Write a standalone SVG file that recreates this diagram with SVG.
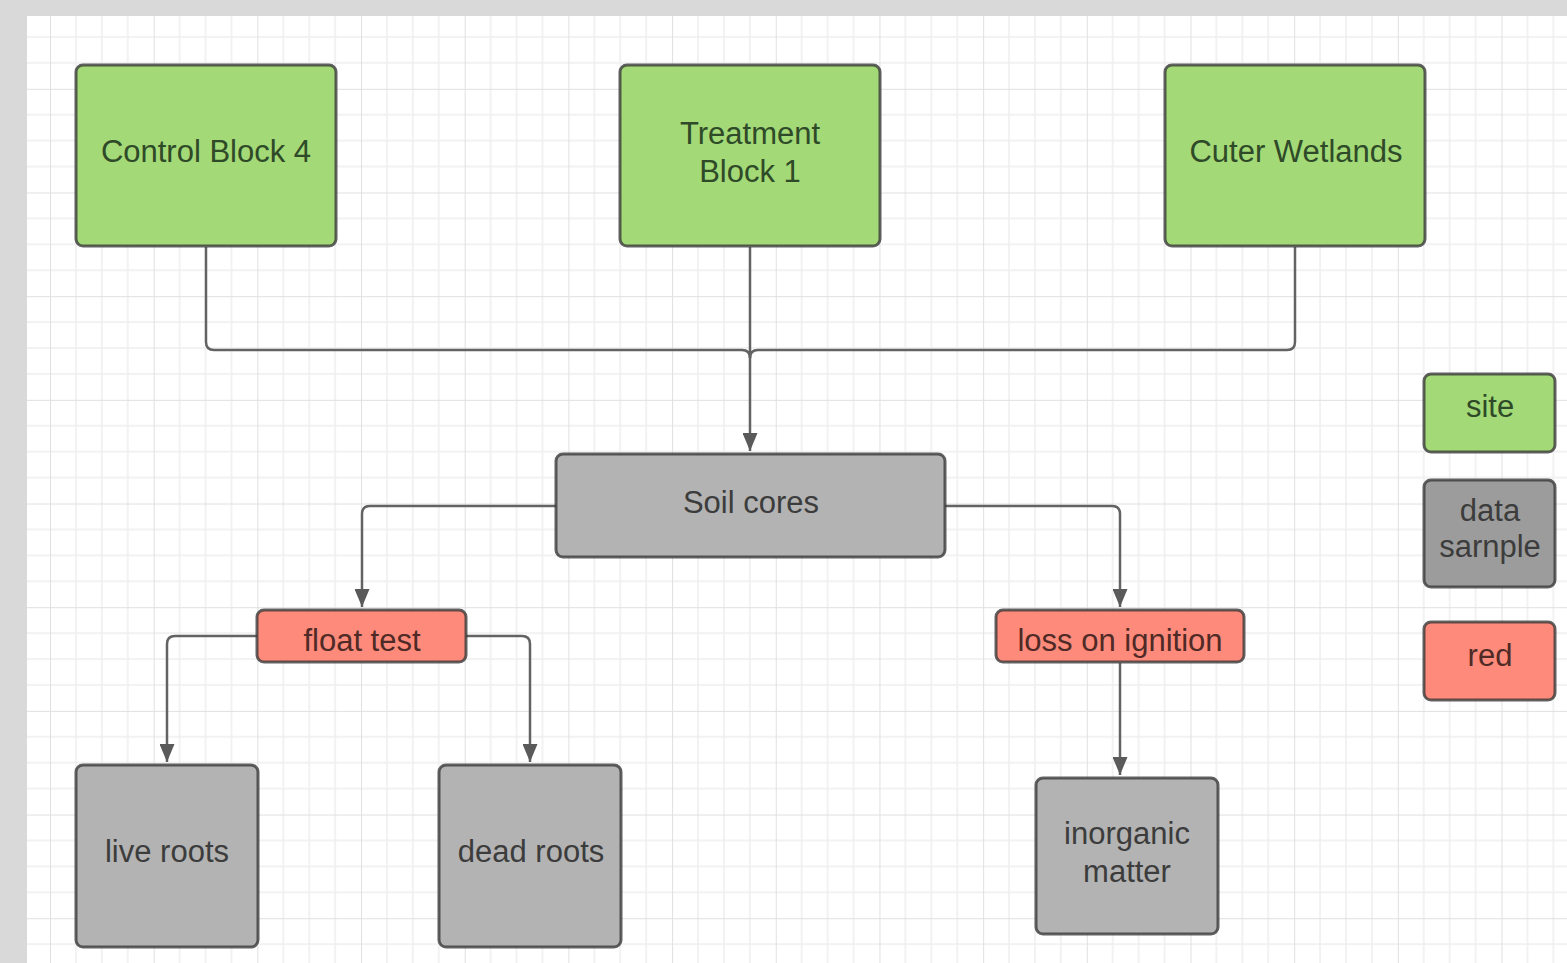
<svg xmlns="http://www.w3.org/2000/svg" width="1567" height="963" viewBox="0 0 1567 963">
<style>
.node rect{stroke:#3a3a3a;stroke-opacity:0.8;stroke-width:3}
.site rect{fill:#a3d977}
.data rect{fill:#b3b3b3}
.leg rect{fill:#9c9c9c}
.red rect{fill:#fd8a7a}
text{font-family:"Liberation Sans",Arial,sans-serif;font-size:31px;text-anchor:middle}
.site text{fill:#2f4a28}
.data text,.leg text{fill:#3c3c3c}
.red text{fill:#4f2a26}
.conn path{fill:none;stroke:#636363;stroke-width:2.5}
</style>
<defs>
<pattern id="grid" patternUnits="userSpaceOnUse" x="50" y="88.8" width="103.68" height="103.68">
<path d="M25.92,0V103.68M51.84,0V103.68M77.76,0V103.68M0,25.92H103.68M0,51.84H103.68M0,77.76H103.68" stroke="#eeeeee" stroke-width="1.5" fill="none"/>
<path d="M0,0V103.68M0,0H103.68" stroke="#e0e0e0" stroke-width="2" fill="none"/>
</pattern>
<marker id="arr" viewBox="0 0 18 15" refX="18" refY="7.5" markerWidth="18" markerHeight="15" markerUnits="userSpaceOnUse" orient="auto">
<path d="M0,0L18,7.5L0,15z" fill="#5a5a5a"/>
</marker>
</defs>
<rect x="0" y="0" width="1567" height="963" fill="#d9d9d9"/>
<rect x="27" y="16" width="1540" height="947" fill="#ffffff"/>
<rect x="27" y="16" width="1540" height="947" fill="url(#grid)"/>

<g id="connectors" class="conn">
<path d="M206,247V342Q206,350 214,350H742Q750,350 750,358"/>
<path d="M1295,247V342Q1295,350 1287,350H758Q750,350 750,358"/>
<path d="M750,247V451" marker-end="url(#arr)"/>
<path d="M556,506H370Q362,506 362,514V607" marker-end="url(#arr)"/>
<path d="M945,506H1112Q1120,506 1120,514V607" marker-end="url(#arr)"/>
<path d="M257,636H175Q167,636 167,644V762" marker-end="url(#arr)"/>
<path d="M466,636H522Q530,636 530,644V762" marker-end="url(#arr)"/>
<path d="M1120,663V775" marker-end="url(#arr)"/>
</g>

<g id="control-block-4" class="node site"><rect x="76" y="65" width="260" height="181" rx="7"/><text x="206" y="162">Control Block 4</text></g>
<g id="treatment-block-1" class="node site"><rect x="620" y="65" width="260" height="181" rx="7"/><text x="750" y="144">Treatment</text><text x="750" y="182">Block 1</text></g>
<g id="cuter-wetlands" class="node site"><rect x="1165" y="65" width="260" height="181" rx="7"/><text x="1296" y="162">Cuter Wetlands</text></g>
<g id="soil-cores" class="node data"><rect x="556" y="454" width="389" height="103" rx="7"/><text x="751" y="513">Soil cores</text></g>
<g id="float-test" class="node red"><rect x="257" y="610" width="209" height="52" rx="7"/><text x="362" y="651">float test</text></g>
<g id="loss-on-ignition" class="node red"><rect x="996" y="610" width="248" height="52" rx="7"/><text x="1120" y="651">loss on ignition</text></g>
<g id="live-roots" class="node data"><rect x="76" y="765" width="182" height="182" rx="7"/><text x="167" y="862">live roots</text></g>
<g id="dead-roots" class="node data"><rect x="439" y="765" width="182" height="182" rx="7"/><text x="531" y="862">dead roots</text></g>
<g id="inorganic-matter" class="node data"><rect x="1036" y="778" width="182" height="156" rx="7"/><text x="1127" y="844">inorganic</text><text x="1127" y="882">matter</text></g>
<g id="legend-site" class="node site"><rect x="1424" y="374" width="131" height="78" rx="7"/><text x="1490" y="417">site</text></g>
<g id="legend-data-sample" class="node leg"><rect x="1424" y="480" width="131" height="107" rx="7"/><text x="1490" y="521">data</text><text x="1490" y="557">sarnple</text></g>
<g id="legend-red" class="node red"><rect x="1424" y="622" width="131" height="78" rx="7"/><text x="1490" y="666">red</text></g>
</svg>
